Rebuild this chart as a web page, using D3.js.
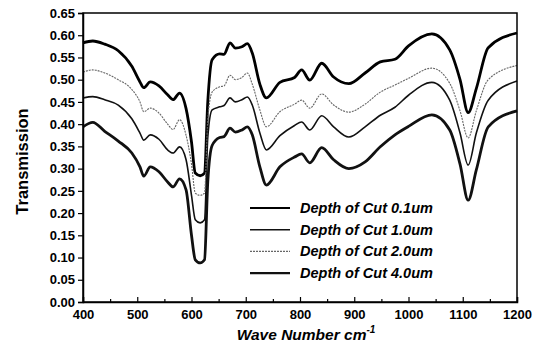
<!DOCTYPE html>
<html>
<head>
<meta charset="utf-8">
<script src="https://cdn.jsdelivr.net/npm/d3@7"></script>
<style>
  body { margin: 0; background: #fff; }
  svg { display: block; }
  text { font-family: Arial, "Liberation Sans", sans-serif; font-weight: bold; }
</style>
</head>
<body>
<div id="chart"></div>
<script>
// wave numbers (cm-1) shared by all four spectra
const waveNumbers = [400, 418, 440, 465, 490, 505, 512, 524, 540, 556, 566, 578, 590, 600, 607, 616, 624, 630,
  638, 652, 660, 671, 681, 693, 703, 712, 726, 738, 763, 790, 803, 818, 840, 862, 890, 920, 948, 975, 1000,
  1043, 1076, 1095, 1110, 1125, 1147, 1200];

const cut01 = [0.583, 0.587, 0.580, 0.565, 0.530, 0.495, 0.482, 0.495, 0.486, 0.466, 0.455, 0.470, 0.435, 0.360,
  0.290, 0.284, 0.290, 0.450, 0.545, 0.558, 0.557, 0.583, 0.571, 0.574, 0.581, 0.560, 0.490, 0.459, 0.494, 0.505,
  0.522, 0.499, 0.537, 0.506, 0.491, 0.515, 0.540, 0.546, 0.576, 0.603, 0.567, 0.500, 0.426, 0.480, 0.572, 0.605];

const cut20 = [0.517, 0.522, 0.515, 0.500, 0.478, 0.450, 0.428, 0.436, 0.425, 0.400, 0.388, 0.410, 0.375, 0.310,
  0.245, 0.240, 0.245, 0.410, 0.472, 0.484, 0.486, 0.510, 0.500, 0.505, 0.515, 0.490, 0.432, 0.394, 0.428, 0.445,
  0.454, 0.436, 0.468, 0.443, 0.427, 0.445, 0.472, 0.488, 0.503, 0.526, 0.492, 0.430, 0.369, 0.430, 0.500, 0.532];

const cut10 = [0.459, 0.462, 0.455, 0.443, 0.412, 0.380, 0.364, 0.376, 0.366, 0.342, 0.335, 0.349, 0.320, 0.240,
  0.185, 0.178, 0.185, 0.370, 0.432, 0.439, 0.442, 0.459, 0.450, 0.455, 0.461, 0.443, 0.380, 0.342, 0.374, 0.397,
  0.405, 0.387, 0.419, 0.394, 0.371, 0.394, 0.420, 0.438, 0.465, 0.494, 0.454, 0.380, 0.308, 0.380, 0.454, 0.497];

const cut40 = [0.394, 0.404, 0.384, 0.362, 0.335, 0.304, 0.283, 0.304, 0.293, 0.270, 0.259, 0.277, 0.252, 0.150,
  0.095, 0.088, 0.095, 0.270, 0.352, 0.370, 0.372, 0.391, 0.382, 0.387, 0.394, 0.376, 0.304, 0.263, 0.304, 0.326,
  0.333, 0.313, 0.347, 0.320, 0.300, 0.315, 0.349, 0.376, 0.395, 0.421, 0.387, 0.310, 0.229, 0.297, 0.394, 0.430];

const xTicks = [400, 500, 600, 700, 800, 900, 1000, 1100, 1200];
const yTicks = [0, 0.05, 0.1, 0.15, 0.2, 0.25, 0.3, 0.35, 0.4, 0.45, 0.5, 0.55, 0.6, 0.65];

const series = [
  { name: 'Depth of Cut 0.1um', values: cut01, color: '#000', width: 2.8, dash: null },
  { name: 'Depth of Cut 1.0um', values: cut10, color: '#111', width: 1.6, dash: null },
  { name: 'Depth of Cut 2.0um', values: cut20, color: '#666', width: 1.1, dash: '2,1' },
  { name: 'Depth of Cut 4.0um', values: cut40, color: '#111', width: 2.8, dash: null }
];

const W = 540, H = 356;
const margin = { top: 13, right: 23, bottom: 54, left: 83 };
const width = W - margin.left - margin.right;
const height = H - margin.top - margin.bottom;

const svg = d3.select('#chart').append('svg')
  .attr('width', W)
  .attr('height', H);

const g = svg.append('g')
  .attr('transform', `translate(${margin.left},${margin.top})`);

const x = d3.scaleLinear().domain([400, 1200]).range([0, width]);
const y = d3.scaleLinear().domain([0, 0.65]).range([height, 0]);

// lines
const line = d3.line()
  .x((d, i) => x(waveNumbers[i]))
  .y(d => y(d))
  .curve(d3.curveMonotoneX);

g.selectAll('.spectrum')
  .data(series)
  .enter()
  .append('path')
  .attr('class', 'spectrum')
  .attr('fill', 'none')
  .attr('stroke', d => d.color)
  .attr('stroke-width', d => d.width)
  .attr('stroke-dasharray', d => d.dash)
  .attr('stroke-linejoin', 'round')
  .attr('d', d => line(d.values));

// x axis: major ticks inside, minor between
const xAxis = g.append('g')
  .attr('class', 'xAxis')
  .attr('transform', `translate(0,${height})`)
  .call(d3.axisBottom(x).tickValues(xTicks).tickSize(-5).tickPadding(8).tickFormat(d3.format('d')));

g.append('g')
  .attr('transform', `translate(0,${height})`)
  .call(d3.axisBottom(x).tickValues(d3.range(450, 1200, 100)).tickSize(-3).tickFormat(''))
  .call(a => a.select('.domain').remove());

xAxis.selectAll('text').style('font-size', '13px').attr('fill', '#000');

// y axis: ticks outside
const yAxis = g.append('g')
  .attr('class', 'yAxis')
  .call(d3.axisLeft(y).tickValues(yTicks).tickSize(5).tickPadding(3).tickFormat(d3.format('.2f')));

yAxis.selectAll('text').style('font-size', '13px').attr('fill', '#000');

g.selectAll('.domain').attr('stroke', '#000').attr('stroke-width', 1.5);
g.selectAll('.tick line').attr('stroke', '#000').attr('stroke-width', 1.2);

// frame
g.append('rect')
  .attr('width', width)
  .attr('height', height)
  .attr('fill', 'none')
  .attr('stroke', '#000')
  .attr('stroke-width', 1.5);

// axis titles
const xTitle = svg.append('text')
  .attr('x', margin.left + width / 2 + 6)
  .attr('y', 340)
  .attr('text-anchor', 'middle')
  .style('font-size', '15.5px')
  .style('font-style', 'italic');
xTitle.append('tspan').text('Wave Number cm');
xTitle.append('tspan').attr('dy', -7).style('font-size', '10px').text('-1');

svg.append('text')
  .attr('transform', `translate(28,${margin.top + height / 2 + 4}) rotate(-90)`)
  .attr('text-anchor', 'middle')
  .style('font-size', '16.5px')
  .text('Transmission');

// legend
const legend = g.append('g')
  .attr('class', 'legend')
  .attr('transform', `translate(${250 - margin.left},${208 - margin.top})`)
  .selectAll('g')
  .data(series)
  .enter()
  .append('g')
  .attr('transform', (d, i) => `translate(0,${i * 21.7})`);

legend.append('line')
  .attr('x1', 0)
  .attr('x2', 40)
  .attr('stroke', d => d.color)
  .attr('stroke-width', d => Math.min(d.width, 2.2))
  .attr('stroke-dasharray', d => d.dash);

legend.append('text')
  .attr('x', 50)
  .attr('dy', '0.35em')
  .style('font-size', '14.5px')
  .style('font-style', 'italic')
  .text(d => d.name);
</script>
</body>
</html>
